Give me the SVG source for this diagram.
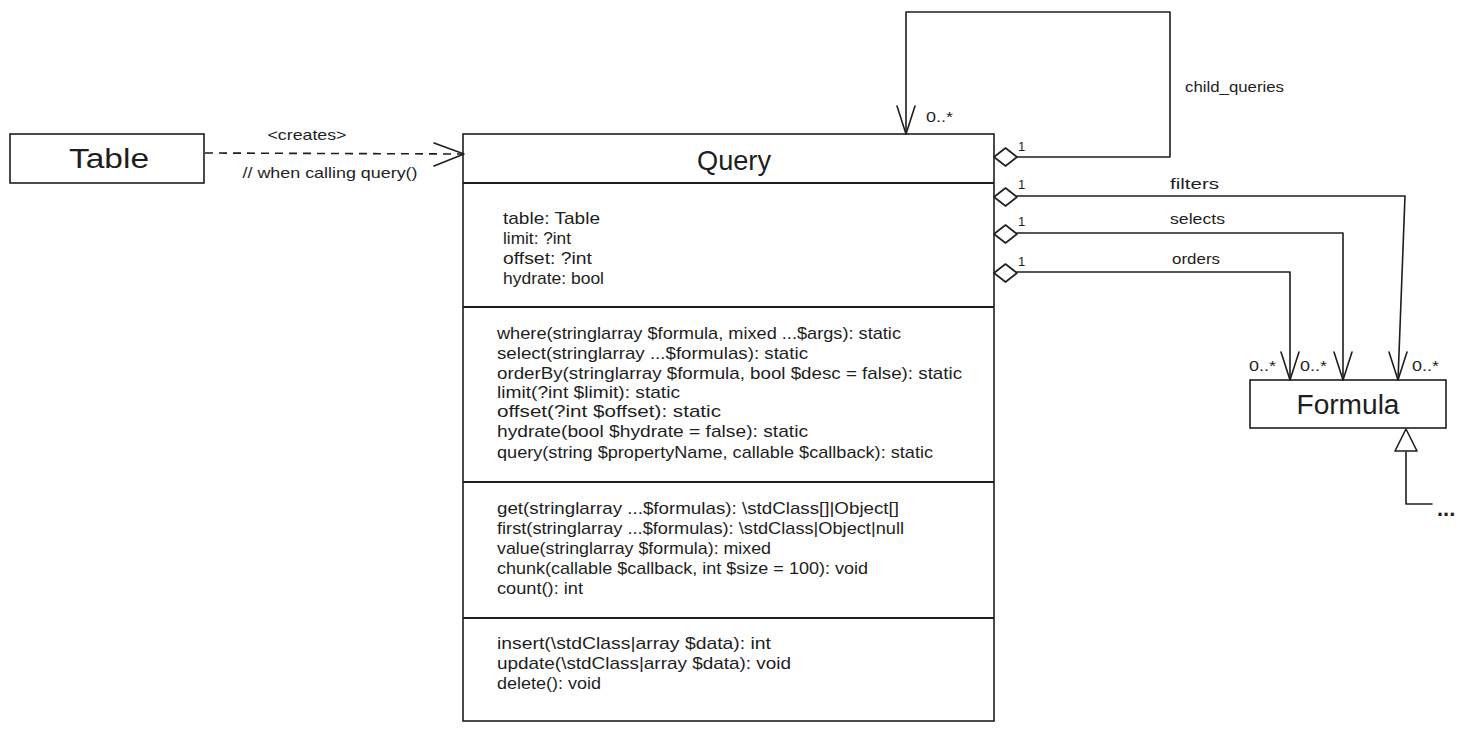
<svg xmlns="http://www.w3.org/2000/svg" width="1470" height="731" viewBox="0 0 1470 731">
<defs>
<style>
.box{fill:#fff;stroke:#1e1e1e;stroke-width:1.6}
.sep{stroke:#1e1e1e;stroke-width:2;fill:none}
.ln{stroke:#1e1e1e;stroke-width:1.6;fill:none;stroke-linejoin:round;stroke-linecap:round}
.dash{stroke:#1e1e1e;stroke-width:1.6;fill:none;stroke-dasharray:8 6}
.dia{fill:#fff;stroke:#1e1e1e;stroke-width:1.6;stroke-linejoin:round}
text{font-family:"Liberation Sans",Arial,sans-serif;fill:#1e1e1e}
.t{font-size:17px;dominant-baseline:central}
.lbl{font-size:15px;dominant-baseline:central}
.sm{font-size:13px;dominant-baseline:central}
.title{font-size:27px;dominant-baseline:central;text-anchor:middle}
.mid{text-anchor:middle}
</style>
</defs>
<rect width="1470" height="731" fill="#fff"/>

<g id="table">
<rect class="box" x="10" y="134" width="194" height="49"/>
<text class="title" x="109" y="159" textLength="80" lengthAdjust="spacingAndGlyphs">Table</text>
</g>

<g id="query">
<rect class="box" x="463" y="134" width="531" height="587"/>
<line class="sep" x1="463" y1="183" x2="994" y2="183"/>
<line class="sep" x1="463" y1="307" x2="994" y2="307"/>
<line class="sep" x1="463" y1="482" x2="994" y2="482"/>
<line class="sep" x1="463" y1="618" x2="994" y2="618"/>
<text class="title" x="734" y="160" style="font-size:28px" textLength="74" lengthAdjust="spacingAndGlyphs">Query</text>
<text class="t" x="503" y="218" textLength="97" lengthAdjust="spacingAndGlyphs">table: Table</text>
<text class="t" x="503" y="238" textLength="68" lengthAdjust="spacingAndGlyphs">limit: ?int</text>
<text class="t" x="503" y="258" textLength="89" lengthAdjust="spacingAndGlyphs">offset: ?int</text>
<text class="t" x="503" y="278" textLength="101" lengthAdjust="spacingAndGlyphs">hydrate: bool</text>
<text class="t" x="497" y="333" textLength="404" lengthAdjust="spacingAndGlyphs">where(stringlarray $formula, mixed ...$args): static</text>
<text class="t" x="497" y="353" textLength="311" lengthAdjust="spacingAndGlyphs">select(stringlarray ...$formulas): static</text>
<text class="t" x="497" y="373" textLength="465" lengthAdjust="spacingAndGlyphs">orderBy(stringlarray $formula, bool $desc = false): static</text>
<text class="t" x="497" y="392" textLength="183" lengthAdjust="spacingAndGlyphs">limit(?int $limit): static</text>
<text class="t" x="497" y="411" textLength="224" lengthAdjust="spacingAndGlyphs">offset(?int $offset): static</text>
<text class="t" x="497" y="431" textLength="311" lengthAdjust="spacingAndGlyphs">hydrate(bool $hydrate = false): static</text>
<text class="t" x="497" y="452" textLength="436" lengthAdjust="spacingAndGlyphs">query(string $propertyName, callable $callback): static</text>
<text class="t" x="497" y="508" textLength="402" lengthAdjust="spacingAndGlyphs">get(stringlarray ...$formulas): \stdClass[]|Object[]</text>
<text class="t" x="497" y="528" textLength="407" lengthAdjust="spacingAndGlyphs">first(stringlarray ...$formulas): \stdClass|Object|null</text>
<text class="t" x="497" y="548" textLength="274" lengthAdjust="spacingAndGlyphs">value(stringlarray $formula): mixed</text>
<text class="t" x="497" y="568" textLength="371" lengthAdjust="spacingAndGlyphs">chunk(callable $callback, int $size = 100): void</text>
<text class="t" x="497" y="588" textLength="86" lengthAdjust="spacingAndGlyphs">count(): int</text>
<text class="t" x="497" y="643" textLength="274" lengthAdjust="spacingAndGlyphs">insert(\stdClass|array $data): int</text>
<text class="t" x="497" y="663" textLength="294" lengthAdjust="spacingAndGlyphs">update(\stdClass|array $data): void</text>
<text class="t" x="497" y="683" textLength="104" lengthAdjust="spacingAndGlyphs">delete(): void</text>
</g>

<g id="formula">
<rect class="box" x="1250" y="380" width="196" height="48"/>
<text class="title" x="1348" y="405" textLength="103" lengthAdjust="spacingAndGlyphs">Formula</text>
</g>

<g id="connectors">
<!-- Table -> Query -->
<line class="dash" x1="205" y1="153" x2="462" y2="154"/>
<polyline class="ln" points="434,143 464,154 434,166"/>
<text class="lbl mid" x="307" y="134" textLength="79" lengthAdjust="spacingAndGlyphs">&lt;creates&gt;</text>
<text class="lbl mid" x="330" y="172" textLength="175" lengthAdjust="spacingAndGlyphs">// when calling query()</text>

<!-- child_queries self loop -->
<polyline class="ln" points="1017,157 1170,157 1170,12 906,12 906,134"/>
<polygon class="dia" points="994,157 1005.5,148 1017,157 1005.5,166"/>
<polyline class="ln" points="897,106 906,134 915,106"/>
<text class="lbl" x="926" y="116" textLength="27" lengthAdjust="spacingAndGlyphs">0..*</text>
<text class="sm" x="1018" y="146">1</text>
<text class="lbl" x="1185" y="86" textLength="99" lengthAdjust="spacingAndGlyphs">child_queries</text>

<!-- filters -->
<polyline class="ln" points="1017,196 1405,196 1398,380"/>
<polygon class="dia" points="994,197 1005.5,188 1017,197 1005.5,206"/>
<polyline class="ln" points="1389,352 1398,380 1407,352"/>
<text class="sm" x="1018" y="184">1</text>
<text class="lbl" x="1170" y="183" textLength="49" lengthAdjust="spacingAndGlyphs">filters</text>
<text class="lbl" x="1412" y="365" textLength="27" lengthAdjust="spacingAndGlyphs">0..*</text>

<!-- selects -->
<polyline class="ln" points="1017,233 1343,233 1343,380"/>
<polygon class="dia" points="994,234 1005.5,225 1017,234 1005.5,243"/>
<polyline class="ln" points="1334,352 1343,380 1352,352"/>
<text class="sm" x="1018" y="221">1</text>
<text class="lbl" x="1170" y="218" textLength="55" lengthAdjust="spacingAndGlyphs">selects</text>
<text class="lbl" x="1300" y="365" textLength="27" lengthAdjust="spacingAndGlyphs">0..*</text>

<!-- orders -->
<polyline class="ln" points="1017,272 1290,272 1290,380"/>
<polygon class="dia" points="994,273 1005.5,264 1017,273 1005.5,282"/>
<polyline class="ln" points="1281,352 1290,380 1299,352"/>
<text class="sm" x="1018" y="261">1</text>
<text class="lbl" x="1172" y="258" textLength="48" lengthAdjust="spacingAndGlyphs">orders</text>
<text class="lbl" x="1249" y="365" textLength="27" lengthAdjust="spacingAndGlyphs">0..*</text>

<!-- inheritance -->
<polygon class="dia" points="1406,429 1395,451 1417,451"/>
<polyline class="ln" points="1406,452 1406,504 1432,504"/>
<text x="1437" y="516" style="font-size:22px;font-weight:bold">...</text>
</g>
</svg>
